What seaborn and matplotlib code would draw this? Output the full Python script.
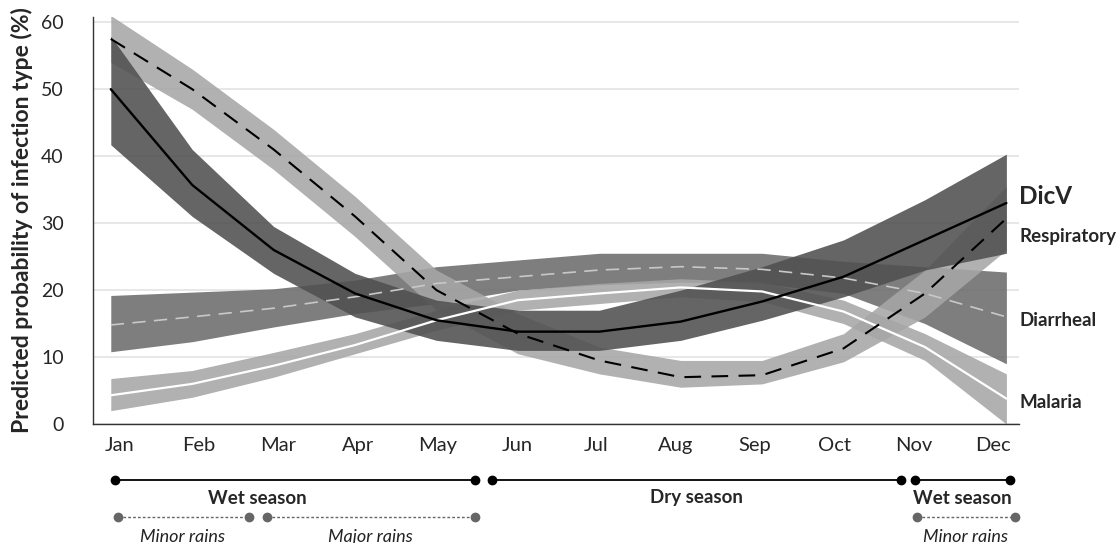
import matplotlib.pyplot as plt
import matplotlib.transforms as mtransforms
import numpy as np
import pandas as pd
import seaborn as sns

months = ["Jan", "Feb", "Mar", "Apr", "May", "Jun", "Jul", "Aug", "Sep", "Oct", "Nov", "Dec"]

# predicted probability (%) and band limits
dicv = [50, 35.7, 26, 19.5, 15.5, 13.8, 13.8, 15.3, 18.3, 22, 27.5, 33]
dicv_lo = [41.7, 31, 22.5, 16, 12.5, 11, 11, 12.5, 15.5, 19, 23, 25.5]
dicv_hi = [57.9, 41, 29.5, 22.5, 18.5, 17, 17, 20, 23.5, 27.5, 33.5, 40.3]

resp = [57.5, 50, 41, 31, 20, 13.5, 9.5, 7, 7.3, 11.3, 19.5, 30.7]
resp_lo = [54, 47, 38, 28, 17, 10.5, 7.5, 5.5, 6, 9.3, 16, 26]
resp_hi = [61, 53, 44, 34, 23, 16.5, 11.5, 9.5, 9.5, 13.5, 23, 35.5]

diar = [14.8, 16, 17.3, 19, 21, 22, 23, 23.5, 23.1, 21.8, 19.5, 16]
diar_lo = [10.8, 12.3, 14.5, 16.5, 18, 20, 20.8, 21.2, 21, 19.5, 15, 9]
diar_hi = [19.2, 19.7, 20.2, 21.5, 23.5, 24.5, 25.5, 25.5, 25.5, 24.3, 23.5, 22.7]

mal = [4.3, 6, 8.7, 11.8, 15.5, 18.5, 19.5, 20.4, 19.8, 16.8, 11.5, 3.8]
mal_lo = [2, 4, 7, 10.5, 14, 17, 18, 19, 18.3, 15, 9.5, 0]
mal_hi = [6.8, 8, 10.7, 13.5, 17, 20, 21, 21.7, 21.2, 18.5, 13.5, 7.5]

# season bars (month units)
seasons = [("Wet season", 0.05, 4.47), ("Dry season", 4.68, 9.7), ("Wet season", 9.88, 11.04)]
rains = [("Minor rains", 0.09, 1.7), ("Major rains", 1.92, 4.47), ("Minor rains", 9.9, 11.1)]

sns.set_style("white")
plt.rcParams["font.family"] = ["Lato", "DejaVu Sans"]

x = np.arange(len(months))
fig = plt.figure(figsize=(11.19, 5.43), dpi=100)
ax = fig.add_axes([0.083, 0.219, 0.828, 0.75])

series = [
    ("Diarrheal", diar, diar_lo, diar_hi, "#6c6c6c", "#c8c8c8", (8, 5), 1.2),
    ("Malaria", mal, mal_lo, mal_hi, "#a6a6a6", "white", None, 1.6),
    ("Respiratory", resp, resp_lo, resp_hi, "#a6a6a6", "black", (8, 5), 1.5),
    ("DicV", dicv, dicv_lo, dicv_hi, "#505050", "black", None, 1.7),
]

for name, mid, lo, hi, band, lc, dash, lw in series:
    ax.fill_between(x, lo, hi, color=band, alpha=0.88, lw=0, zorder=2)
for name, mid, lo, hi, band, lc, dash, lw in series:
    df = pd.DataFrame({"m": x, "v": mid})
    sns.lineplot(data=df, x="m", y="v", ax=ax, color=lc, lw=lw, zorder=3)
    if dash is not None:
        ax.lines[-1].set_dashes(dash)

ax.set_xlim(-0.22, 11.16)
ax.set_ylim(0, 60.8)
ax.set_yticks(range(0, 61, 10))
# month labels in the original sit on a slightly narrower spacing than the data
ax.set_xticks(0.11 + x * 0.9755)
ax.set_xticklabels(months)
ax.tick_params(axis="both", length=0, labelsize=14)
ax.tick_params(axis="x", pad=9, labelsize=14.5)
ax.tick_params(axis="y", pad=21)
ax.grid(axis="y", color="#e3e3e3", lw=1.2)
ax.set_axisbelow(True)
for s in ["top", "right"]:
    ax.spines[s].set_visible(False)
for s in ["left", "bottom"]:
    ax.spines[s].set_color("#333333")
    ax.spines[s].set_linewidth(1.0)
ax.set_xlabel("")
ax.set_ylabel("Predicted probability of infection type (%)", fontsize=16.5, fontweight="bold", labelpad=6)

# right-hand series labels
lab = [("DicV", 34, 17.5), ("Respiratory", 28, 13.5), ("Diarrheal", 15.5, 13.5), ("Malaria", 3.2, 13.5)]
for t, yv, fs in lab:
    ax.text(1.0, yv, t, transform=mtransforms.blended_transform_factory(ax.transAxes, ax.transData),
            fontsize=fs, fontweight="bold", va="center", ha="left", clip_on=False)

# season bars below the axis
tr = mtransforms.blended_transform_factory(ax.transData, fig.transFigure)
for t, a, b in seasons:
    ax.plot([a, b], [1 - 480 / 543] * 2, color="black", lw=1.3, marker="o", ms=6,
            transform=tr, clip_on=False)
    ax.text((a + b) / 2 if t != "Wet season" or a > 5 else 1.8, 1 - 498 / 543, t, transform=tr,
            ha="center", va="center", fontsize=13.5, fontweight="bold")
for t, a, b in rains:
    ax.plot([a, b], [1 - 517 / 543] * 2, color="#666666", lw=1.0, ls=(0, (2, 1.5)),
            marker="o", ms=6, transform=tr, clip_on=False)
    ax.text((a + b) / 2 if t != "Minor rains" or a > 5 else 0.88, 1 - 537 / 543, t, transform=tr,
            ha="center", va="center", fontsize=13, fontstyle="italic", color="#222222")

fig.savefig("out.png", dpi=100)
